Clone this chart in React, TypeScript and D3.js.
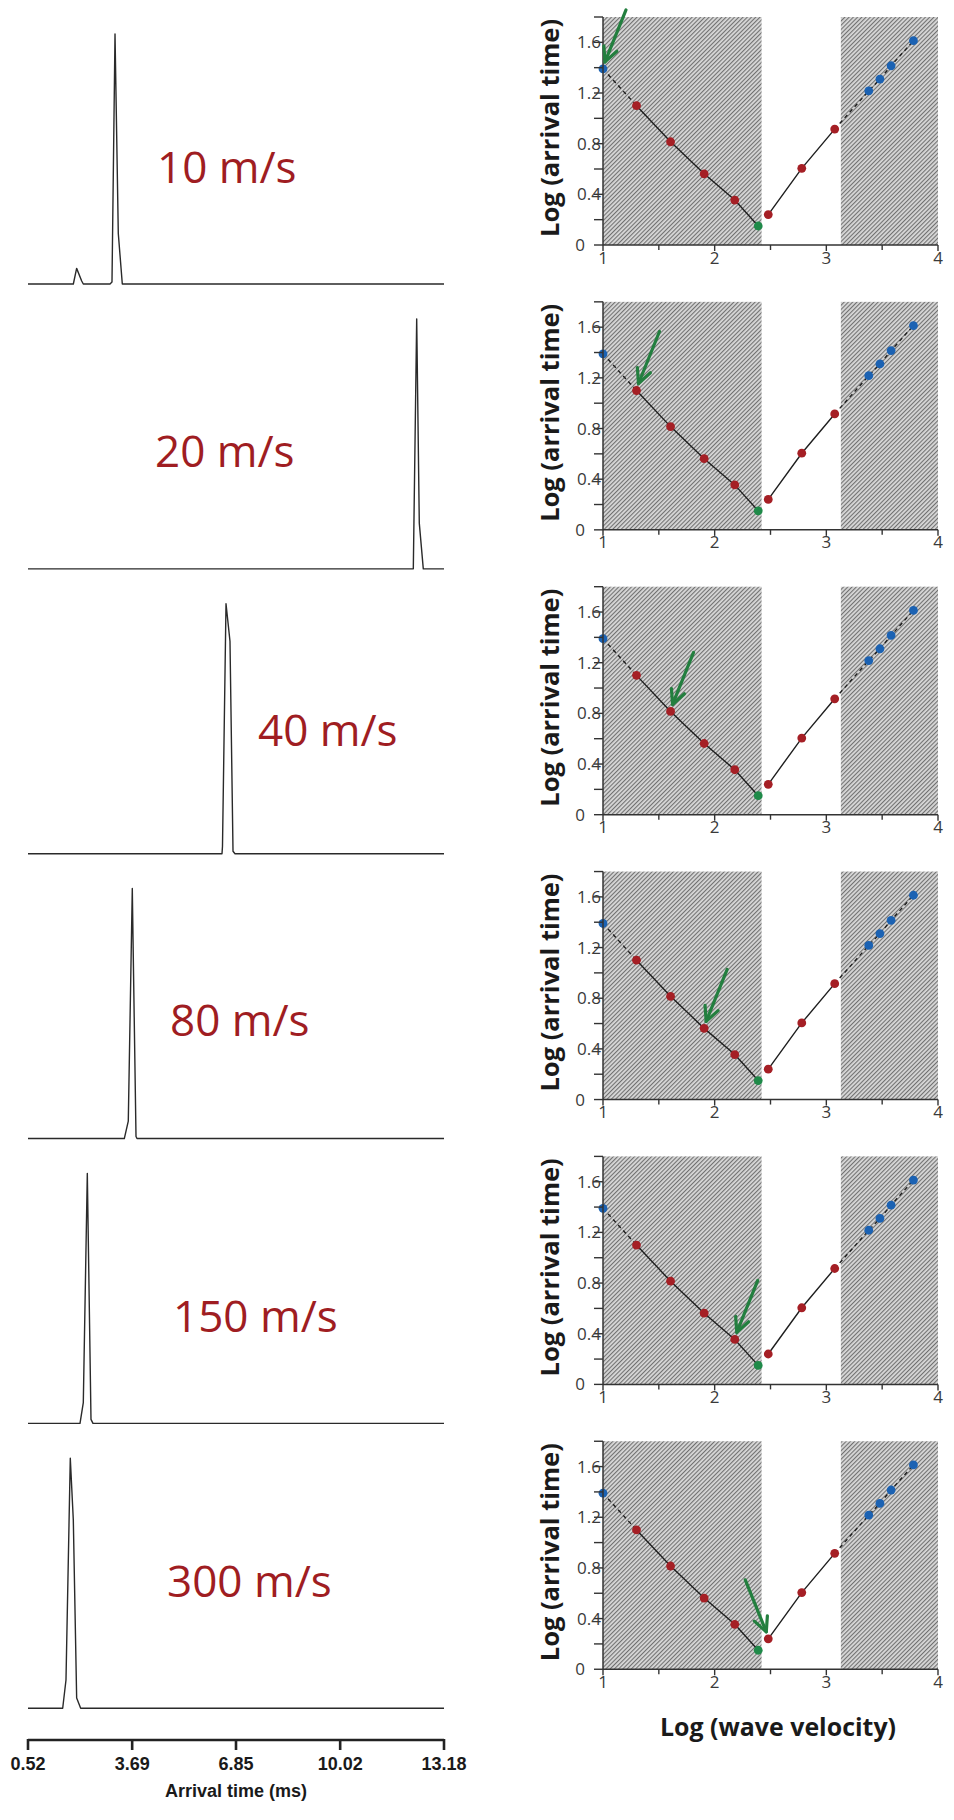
import React from "react";
import * as d3 from "d3";

// ---------- data ----------
const TIME_DOMAIN: [number, number] = [0.52, 13.18];
const TIME_TICKS = [0.52, 3.69, 6.85, 10.02, 13.18];
const VELOCITY_LABELS = ["10 m/s", "20 m/s", "40 m/s", "80 m/s", "150 m/s", "300 m/s"];

// [arrival time (ms), normalised amplitude]
const trace10: [number, number][] = [
  [0.52, 0], [1.9, 0], [2.0, 0.0625], [2.154, 0.012], [2.203, 0], [3.016, 0],
  [3.076, 0.008], [3.168, 1], [3.268, 0.202], [3.39, 0], [13.18, 0],
];
const trace20: [number, number][] = [
  [0.52, 0], [12.246, 0], [12.349, 1], [12.428, 0.183], [12.55, 0], [13.18, 0],
];
const trace40: [number, number][] = [
  [0.52, 0], [6.424, 0], [6.439, 0.03], [6.546, 1], [6.667, 0.85], [6.759, 0.01], [6.82, 0], [13.18, 0],
];
const trace80: [number, number][] = [
  [0.52, 0], [3.451, 0], [3.572, 0.07], [3.694, 1], [3.716, 0.8], [3.807, 0.008], [3.837, 0], [13.18, 0],
];
const trace150: [number, number][] = [
  [0.52, 0], [2.103, 0], [2.203, 0.083], [2.325, 1], [2.437, 0.016], [2.498, 0], [13.18, 0],
];
const trace300: [number, number][] = [
  [0.52, 0], [1.576, 0], [1.676, 0.113], [1.807, 1], [1.899, 0.753], [2.001, 0.041], [2.123, 0], [13.18, 0],
];
const TRACES = [trace10, trace20, trace40, trace80, trace150, trace300];

const LOG_VELOCITY = [1.0, 1.3, 1.605, 1.906, 2.18, 2.39, 2.48, 2.78, 3.075, 3.38, 3.48, 3.58, 3.78];
const LOG_ARRIVAL = [1.39, 1.1, 0.815, 0.562, 0.355, 0.15, 0.24, 0.605, 0.915, 1.217, 1.31, 1.415, 1.613];
const POINT_GROUP = ["blue", "red", "red", "red", "red", "green", "red", "red", "red", "blue", "blue", "blue", "blue"];
const SEGMENTS = [
  { from: 0, to: 1, dashed: true },
  { from: 1, to: 5, dashed: false },
  { from: 6, to: 8, dashed: false },
  { from: 8, to: 12, dashed: true },
];
const ARROW_TARGET = [0, 1, 2, 3, 4, 6];
const ARROW_DIR = [1, 1, 1, 1, 1, -1];
const SHADE_RANGES: [number, number][] = [[1, 2.42], [3.13, 4]];
const X_DOMAIN: [number, number] = [1, 4];
const Y_DOMAIN: [number, number] = [0, 1.8];
const X_MAJOR = [1, 2, 3, 4];
const X_MINOR = [1.5, 2.5, 3.5];
const Y_TICKS = [0, 0.2, 0.4, 0.6, 0.8, 1.0, 1.2, 1.4, 1.6, 1.8];
const Y_LABELS = [0, 0.4, 0.8, 1.2, 1.6];

// ---------- layout ----------
const W = 954;
const H = 1820;
const STEP = 284.85;
const LEFT_BASE0 = 284;
const AMP_PX = 250;
const LEFT_X: [number, number] = [28, 444];
const TIME_AXIS_Y = 1740;
const RIGHT_X: [number, number] = [603, 938];
const RIGHT_ZERO0 = 245;
const RIGHT_TOP0 = 17;
const LABEL_X = [157, 155, 258, 170, 173, 167];
const LABEL_DY = [-101, -102, -108, -103, -91, -111];

const COLORS: Record<string, string> = { blue: "#1b62b3", red: "#a51f25", green: "#1f8a49" };
const LABEL_RED = "#9f1d22";
const ARROW_GREEN = "#237f3f";

const fmt = (v: number) => (v === 0 ? "0" : d3.format(".1f")(v));

function TracePanel({ i }: { i: number }) {
  const base = LEFT_BASE0 + i * STEP;
  const x = d3.scaleLinear().domain(TIME_DOMAIN).range(LEFT_X);
  const y = d3.scaleLinear().domain([0, 1]).range([base, base - AMP_PX]);
  const line = d3.line<[number, number]>().x((d) => x(d[0])).y((d) => y(d[1]));
  return (
    <g>
      <path d={line(TRACES[i]) || ""} fill="none" stroke="#2a2a2a" strokeWidth={1.4} strokeLinejoin="round" />
      <text
        x={LABEL_X[i]}
        y={base + LABEL_DY[i]}
        fill={LABEL_RED}
        fontFamily="'Open Sans', 'Noto Sans', sans-serif"
        fontSize={44}
      >
        {VELOCITY_LABELS[i]}
      </text>
    </g>
  );
}

function ScatterPanel({ i, last }: { i: number; last: boolean }) {
  const off = i * STEP;
  const x = d3.scaleLinear().domain(X_DOMAIN).range(RIGHT_X);
  const y = d3.scaleLinear().domain(Y_DOMAIN).range([RIGHT_ZERO0 + off, RIGHT_TOP0 + off]);
  const line = d3.line<number>().x((k) => x(LOG_VELOCITY[k])).y((k) => y(LOG_ARRIVAL[k]));
  const tFont = "'Open Sans', 'Noto Sans', sans-serif";

  const t = ARROW_TARGET[i];
  const dir = ARROW_DIR[i];
  const px = x(LOG_VELOCITY[t]);
  const py = y(LOG_ARRIVAL[t]);
  const tipX = px + 2 * dir;
  const tipY = py - 7;
  const tailX = tipX + 21 * dir;
  const tailY = tipY - 52;
  const len = Math.hypot(tailX - tipX, tailY - tipY);
  const ux = (tailX - tipX) / len;
  const uy = (tailY - tipY) / len;
  const arm = (ang: number) => {
    const a = (ang * Math.PI) / 180;
    const rx = ux * Math.cos(a) - uy * Math.sin(a);
    const ry = ux * Math.sin(a) + uy * Math.cos(a);
    return [tipX + rx * 16, tipY + ry * 16];
  };
  const a1 = arm(26);
  const a2 = arm(-26);

  return (
    <g>
      {SHADE_RANGES.map((r, k) => (
        <rect
          key={k}
          x={x(r[0])}
          y={y(Y_DOMAIN[1])}
          width={x(r[1]) - x(r[0])}
          height={y(0) - y(Y_DOMAIN[1])}
          fill="url(#hatch)"
        />
      ))}
      {SEGMENTS.map((s, k) => (
        <path
          key={k}
          d={line(d3.range(s.from, s.to + 1)) || ""}
          fill="none"
          stroke="#1e1e1e"
          strokeWidth={1.4}
          strokeDasharray={s.dashed ? "4,3.5" : undefined}
        />
      ))}
      {LOG_VELOCITY.map((v, k) => (
        <circle key={k} cx={x(v)} cy={y(LOG_ARRIVAL[k])} r={4.4} fill={COLORS[POINT_GROUP[k]]} />
      ))}
      {/* axes */}
      <line x1={x(1)} x2={x(1)} y1={y(0)} y2={y(1.8)} stroke="#333" strokeWidth={1.5} />
      <line x1={x(1)} x2={x(4)} y1={y(0)} y2={y(0)} stroke="#333" strokeWidth={1.5} />
      {Y_TICKS.map((v) => (
        <line key={v} x1={x(1) - 9} x2={x(1)} y1={y(v)} y2={y(v)} stroke="#333" strokeWidth={1.4} />
      ))}
      {X_MAJOR.map((v) => (
        <line key={v} x1={x(v)} x2={x(v)} y1={y(0)} y2={y(0) + 6} stroke="#333" strokeWidth={1.4} />
      ))}
      {X_MINOR.map((v) => (
        <line key={v} x1={x(v)} x2={x(v)} y1={y(0)} y2={y(0) + 5} stroke="#333" strokeWidth={1.4} />
      ))}
      {Y_LABELS.map((v) => (
        <text
          key={v}
          x={v === 0 ? x(1) - 18 : x(1) - 2}
          y={y(v) + 6}
          textAnchor="end"
          fontFamily={tFont}
          fontSize={17}
          fill="#3a3a3a"
        >
          {fmt(v)}
        </text>
      ))}
      {X_MAJOR.map((v) => (
        <text key={v} x={x(v)} y={y(0) + 18.5} textAnchor="middle" fontFamily={tFont} fontSize={17} fill="#3a3a3a">
          {v}
        </text>
      ))}
      <text
        transform={`translate(559, ${off + 128}) rotate(-90)`}
        textAnchor="middle"
        fontFamily={tFont}
        fontWeight={700}
        fontSize={25}
        fill="#1a1a1a"
        textLength={218}
        lengthAdjust="spacingAndGlyphs"
      >
        Log (arrival time)
      </text>
      {/* arrow */}
      <g stroke={ARROW_GREEN} strokeWidth={3.2} fill="none" strokeLinecap="round" strokeLinejoin="round">
        <line x1={tailX} y1={tailY} x2={tipX} y2={tipY} />
        <polyline points={`${a1[0]},${a1[1]} ${tipX},${tipY} ${a2[0]},${a2[1]}`} />
      </g>
      {last && (
        <text
          x={778}
          y={y(0) + 67}
          textAnchor="middle"
          fontFamily={tFont}
          fontWeight={700}
          fontSize={25}
          fill="#1a1a1a"
          textLength={236}
          lengthAdjust="spacingAndGlyphs"
        >
          Log (wave velocity)
        </text>
      )}
    </g>
  );
}

export default function App() {
  const tx = d3.scaleLinear().domain(TIME_DOMAIN).range(LEFT_X);
  return (
    <svg
      width={W}
      height={H}
      viewBox={`0 0 ${W} ${H}`}
      style={{ position: "absolute", left: 0, top: 0, background: "#fff" }}
    >
      <defs>
        <pattern id="hatch" width={3} height={3} patternUnits="userSpaceOnUse" patternTransform="rotate(45)">
          <rect width={3} height={3} fill="#d8d8d8" />
          <line x1={0.6} y1={0} x2={0.6} y2={3} stroke="#666" strokeWidth={1.0} />
        </pattern>
      </defs>
      <rect width={W} height={H} fill="#fff" />
      {TRACES.map((_, i) => (
        <TracePanel key={i} i={i} />
      ))}
      {TRACES.map((_, i) => (
        <ScatterPanel key={i} i={i} last={i === TRACES.length - 1} />
      ))}
      {/* time axis */}
      <line x1={LEFT_X[0]} x2={LEFT_X[1]} y1={TIME_AXIS_Y} y2={TIME_AXIS_Y} stroke="#222" strokeWidth={2.6} />
      {TIME_TICKS.map((v) => (
        <g key={v}>
          <line x1={tx(v)} x2={tx(v)} y1={TIME_AXIS_Y - 1} y2={TIME_AXIS_Y + 10} stroke="#222" strokeWidth={2.6} />
          <text
            x={tx(v)}
            y={TIME_AXIS_Y + 30}
            textAnchor="middle"
            fontFamily="'Liberation Sans', Arial, sans-serif"
            fontWeight={700}
            fontSize={18}
            fill="#1a1a1a"
          >
            {d3.format(".2f")(v)}
          </text>
        </g>
      ))}
      <text
        x={(LEFT_X[0] + LEFT_X[1]) / 2}
        y={TIME_AXIS_Y + 57}
        textAnchor="middle"
        fontFamily="'Liberation Sans', Arial, sans-serif"
        fontWeight={700}
        fontSize={18}
        fill="#1a1a1a"
      >
        Arrival time (ms)
      </text>
    </svg>
  );
}
